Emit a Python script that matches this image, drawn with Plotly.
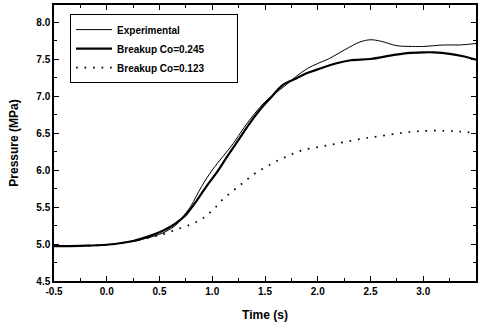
import plotly.graph_objects as go

# Experimental
t_exp = [-0.5, -0.25, 0.0, 0.25, 0.5, 0.65, 0.75, 0.8, 0.9, 1.0, 1.1, 1.2, 1.3, 1.4, 1.5,
         1.6, 1.7, 1.8, 1.9, 2.0, 2.1, 2.25, 2.4, 2.5, 2.6, 2.75, 2.9, 3.0, 3.2, 3.35, 3.5]
p_exp = [4.97, 4.975, 4.99, 5.04, 5.13, 5.25, 5.42, 5.52, 5.78, 6.0, 6.18, 6.36, 6.57, 6.76, 6.92,
         7.04, 7.15, 7.27, 7.37, 7.44, 7.5, 7.62, 7.73, 7.76, 7.74, 7.68, 7.67, 7.67, 7.69, 7.69, 7.71]

# Breakup Co=0.245
t_b1 = [-0.5, -0.25, 0.0, 0.25, 0.41, 0.5, 0.6, 0.7, 0.76, 0.85, 0.95, 1.04, 1.15, 1.25, 1.35,
        1.45, 1.55, 1.67, 1.8, 1.9, 2.0, 2.12, 2.3, 2.5, 2.7, 2.85, 3.0, 3.1, 3.25, 3.4, 3.5]
p_b1 = [4.97, 4.975, 4.99, 5.04, 5.11, 5.16, 5.23, 5.33, 5.41, 5.58, 5.79, 5.96, 6.2, 6.41, 6.62,
        6.81, 6.97, 7.15, 7.24, 7.31, 7.36, 7.42, 7.48, 7.5, 7.55, 7.58, 7.59, 7.59, 7.57, 7.53, 7.49]

# Breakup Co=0.123
t_b2 = [-0.5, -0.25, 0.0, 0.25, 0.5, 0.55, 0.65, 0.79, 0.88, 0.95, 1.02, 1.09, 1.17, 1.25, 1.33,
        1.41, 1.52, 1.64, 1.75, 1.86, 2.0, 2.12, 2.26, 2.45, 2.65, 2.85, 3.03, 3.2, 3.35, 3.5]
p_b2 = [4.97, 4.975, 4.99, 5.04, 5.12, 5.14, 5.19, 5.26, 5.32, 5.39, 5.48, 5.59, 5.69, 5.78, 5.87,
        5.96, 6.05, 6.14, 6.21, 6.27, 6.31, 6.34, 6.38, 6.43, 6.47, 6.51, 6.53, 6.53, 6.52, 6.50]

series_names = ["Experimental", "Breakup Co=0.245", "Breakup Co=0.123"]

x_ticks = [-0.5, 0.0, 0.5, 1.0, 1.5, 2.0, 2.5, 3.0, 3.5]
x_labels = ["-0.5", "0.0", "0.5", "1.0", "1.5", "2.0", "2.5", "3.0", "3.5"]
y_ticks = [4.5, 5.0, 5.5, 6.0, 6.5, 7.0, 7.5, 8.0]
y_labels = ["4.5", "5.0", "5.5", "6.0", "6.5", "7.0", "7.5", "8.0"]

fam = "Liberation Sans, Arial, sans-serif"
fnt = dict(family=fam, size=10, color="black", weight="bold")
pad = "\u00a0" * 10

fig = go.Figure()
fig.add_trace(go.Scatter(x=t_exp, y=p_exp, mode="lines", name=series_names[0],
                         line=dict(color="black", width=1, shape="spline")))
fig.add_trace(go.Scatter(x=t_b1, y=p_b1, mode="lines", name=series_names[1] + pad,
                         line=dict(color="black", width=2.2, shape="spline")))
fig.add_trace(go.Scatter(x=t_b2, y=p_b2, mode="lines", name=series_names[2],
                         line=dict(color="black", width=1.7, dash="1.7px,6.8px", shape="spline")))

axis_common = dict(showgrid=False, zeroline=False, showline=True, linecolor="black", linewidth=1.5,
                   mirror="allticks", ticks="inside", ticklen=5, tickwidth=1.2, tickcolor="black",
                   tickfont=fnt, automargin=False)
fig.update_xaxes(range=[-0.5, 3.5], tickvals=x_ticks, ticktext=x_labels,
                 minor=dict(ticks="inside", ticklen=3, tickcolor="black", dtick=0.25, tick0=-0.5),
                 title=dict(text="Time (s)", font=dict(family=fam, size=12, color="black", weight="bold")),
                 **axis_common)
fig.update_yaxes(range=[4.5, 8.23], tickvals=y_ticks, ticktext=y_labels,
                 minor=dict(ticks="inside", ticklen=3, tickcolor="black", dtick=0.25, tick0=4.5),
                 title=dict(text="Pressure (MPa)", font=dict(family=fam, size=12, color="black", weight="bold")),
                 **axis_common)
fig.update_layout(width=482, height=325, paper_bgcolor="white", plot_bgcolor="white",
                  margin=dict(l=54, r=6, t=5, b=44, autoexpand=False),
                  font=fnt,
                  legend=dict(x=0.038, y=0.967, xanchor="left", yanchor="top",
                              bgcolor="white", bordercolor="black", borderwidth=1,
                              font=dict(family=fam, size=10, color="black", weight="bold"),
                              itemwidth=36, tracegroupgap=0))
fig.write_html("out.html", config={"displayModeBar": False},
               post_script="document.body.style.margin='0';document.body.style.overflow='hidden';")
